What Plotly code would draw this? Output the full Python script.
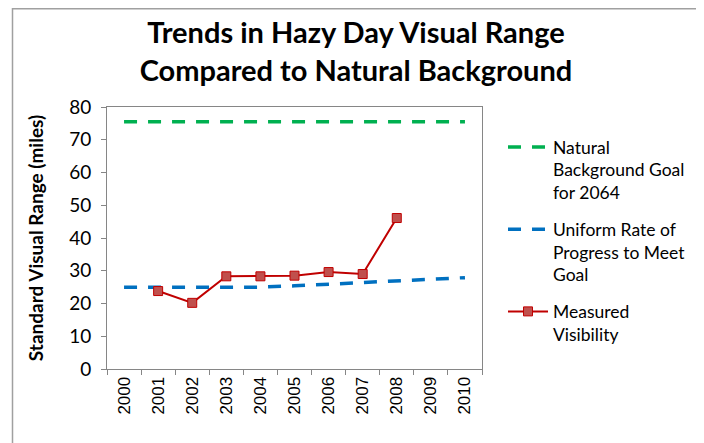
import plotly.graph_objects as go

years = ["2000", "2001", "2002", "2003", "2004", "2005", "2006", "2007", "2008", "2009", "2010"]
natural_goal = [75.5] * 11
uniform_rate = [25.0, 25.0, 25.0, 25.0, 25.0, 25.4, 25.9, 26.4, 26.9, 27.4, 27.9]
measured = [None, 23.8, 20.2, 28.3, 28.3, 28.5, 29.6, 29.0, 46.1, None, None]

y_ticks = [0, 10, 20, 30, 40, 50, 60, 70, 80]

fig = go.Figure()
fig.add_trace(go.Scatter(
    x=years, y=natural_goal, mode="lines",
    name="Natural<br>Background Goal<br>for 2064", legendgroup="a",
    line=dict(color="#00B050", width=3.5, dash="13px,11px"),
))
fig.add_trace(go.Scatter(
    x=years, y=uniform_rate, mode="lines",
    name="Uniform Rate of<br>Progress to Meet<br>Goal", legendgroup="b",
    line=dict(color="#0070C0", width=3.5, dash="13px,11px"),
))
fig.add_trace(go.Scatter(
    x=years, y=measured, mode="lines+markers",
    name="Measured<br>Visibility", legendgroup="c",
    line=dict(color="#C00000", width=2),
    marker=dict(symbol="square", size=9, color="#C0504D",
                line=dict(color="#C00000", width=1)),
))

# page body has an 8px margin; work in reference pixel coordinates and shift
OFF = 8
W, H = 704 - OFF, 443 - OFF
L, T = 107 - OFF, 107 - OFF
R = W - (482 - OFF)
B = H - (369 - OFF)
pw, ph = W - L - R, H - T - B

def px_x(x):
    return (x - OFF - L) / pw

def px_y(y):
    return (H - B - (y - OFF)) / ph

fig.add_shape(type="rect", xref="paper", yref="paper",
              x0=px_x(12.5), x1=px_x(700.5), y0=px_y(470), y1=px_y(8.8),
              line=dict(color="#A0A0A0", width=1.5), layer="below")

FONT = "Lato, Carlito, Calibri, sans-serif"

fig.update_layout(
    width=W, height=H,
    margin=dict(l=L, r=R, t=T, b=B, autoexpand=False),
    paper_bgcolor="white", plot_bgcolor="white",
    font=dict(family=FONT, color="#000000", size=17),
    title=dict(
        text="<b>Trends in Hazy Day Visual Range<br>Compared to Natural Background</b>",
        x=(356 - OFF) / W, xanchor="center", xref="container",
        y=1 - (43 - OFF) / H, yanchor="middle", yref="container",
        font=dict(size=29, family=FONT),
    ),
    legend=dict(
        x=px_x(503), xanchor="left", y=px_y(129), yanchor="top",
        font=dict(size=17.5), valign="top", tracegroupgap=11,
        itemwidth=40, bgcolor="rgba(0,0,0,0)",
    ),
    xaxis=dict(
        type="category", range=[-0.5, 10.5],
        showline=True, linecolor="#868686", linewidth=1, mirror=True,
        ticks="outside", ticklen=5, tickcolor="#868686", tickson="boundaries",
        tickangle=-90, showgrid=False,
        tickfont=dict(family="Liberation Sans, Arial, sans-serif", size=17),
    ),
    yaxis=dict(
        range=[0, 80], tickvals=y_ticks, ticktext=[str(v) for v in y_ticks],
        showline=True, linecolor="#868686", linewidth=1, mirror=True,
        ticks="outside", ticklen=5, tickcolor="#868686", showgrid=False,
        zeroline=False, ticklabelstandoff=6,
        tickfont=dict(size=19),
        title=dict(text="<b>Standard Visual Range (miles)</b>", standoff=20,
                   font=dict(size=19)),
    ),
)

fig.write_html("out.html")
